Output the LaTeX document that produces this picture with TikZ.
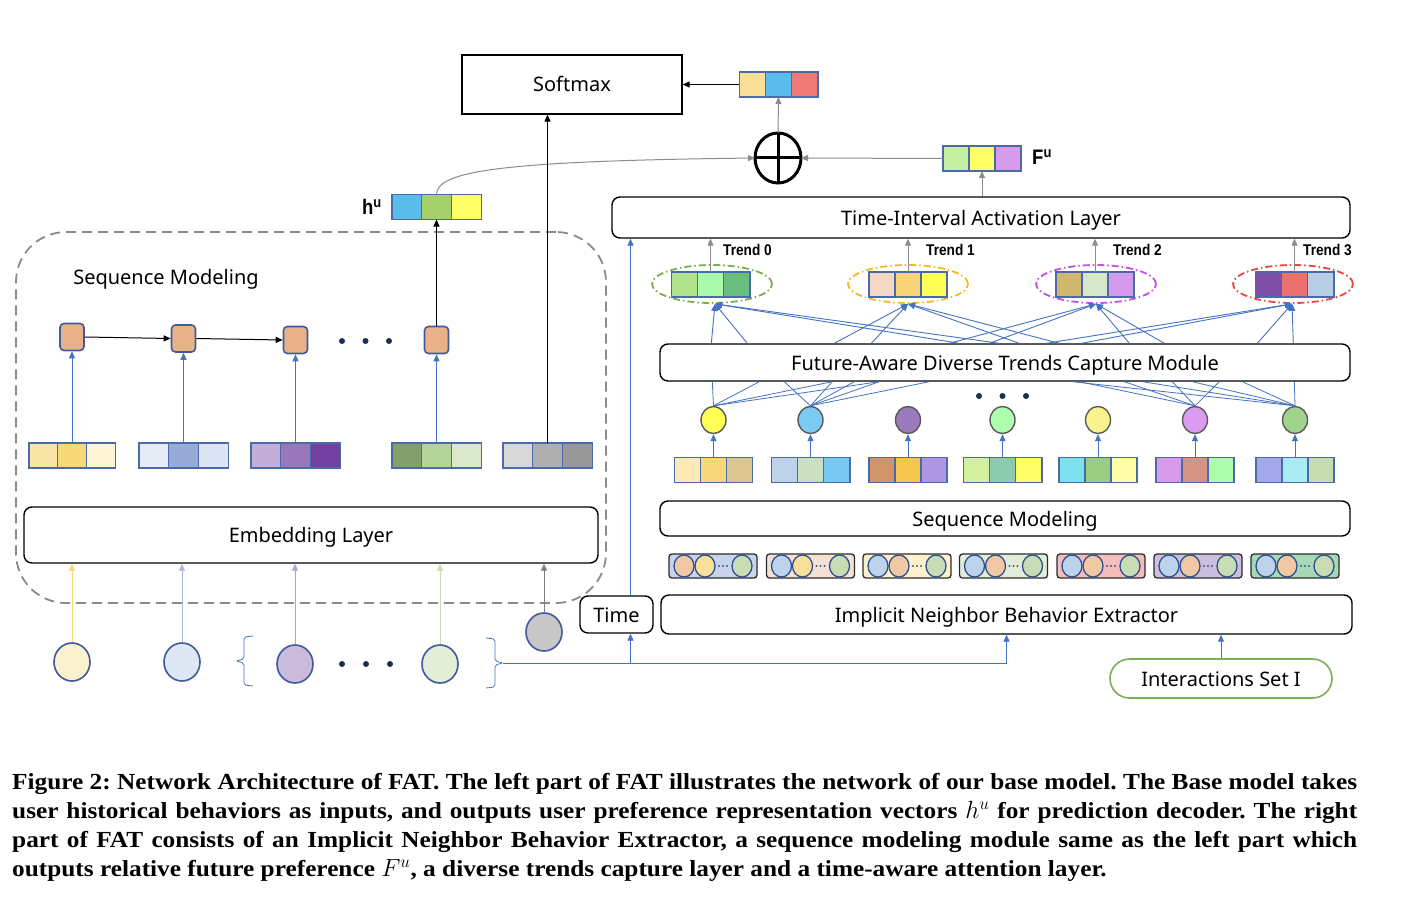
\documentclass[tikz,border=0pt]{standalone}
\usepackage{fontspec}
\setmainfont{Liberation Serif}
\newfontfamily\labfont{Noto Sans}
\newfontfamily\capfont{Liberation Serif}[FakeStretch=1.1]
\newfontfamily\tfont{Liberation Sans}[FakeStretch=0.88]
\usetikzlibrary{arrows.meta,shapes.geometric,calc}

\newcommand{\dc}[1]{\definecolor{c#1}{HTML}{#1}}
\definecolor{vecb}{HTML}{4A6AA8}
\definecolor{bl}{HTML}{4472C4}
\definecolor{gr}{HTML}{8C8C8C}
\definecolor{dg}{HTML}{8A8A8A}
\definecolor{nodeb}{HTML}{3F5B9B}
\definecolor{dotc}{HTML}{1F2D50}

\newcommand{\trivec}[6]{%
  \dc{#4}\dc{#5}\dc{#6}%
  \node[cell,minimum width=#3,fill=c#5] (#1) at #2 {};
  \node[cell,minimum width=#3,fill=c#4,anchor=east] (#1-l) at (#1.west) {};
  \node[cell,minimum width=#3,fill=c#6,anchor=west] (#1-r) at (#1.east) {};
}
\newcommand{\pill}[6]{%
  \dc{#3}\dc{#4}\dc{#5}\dc{#6}%
  \node[pillbox,fill=c#3] (#1) at (#2,566) {};
  \node[pell,fill=c#4] (#1-a) at ($(#1)+(-29,0)$) {};
  \node[pell,fill=c#5] (#1-b) at ($(#1)+(-8,0)$) {};
  \node[pell,fill=c#6] (#1-c) at ($(#1)+(29,0)$) {};
  \foreach \k in {6,10,14} \fill[color=nodeb] ($(#1)+(\k,0)$) circle[radius=1.2pt];
}

\tikzset{
  lab/.style={font=\labfont\fontsize{20}{24}\selectfont},
  lbold/.style={font=\tfont\bfseries\fontsize{21}{24}\selectfont},
  tlab/.style={font=\tfont\bfseries\fontsize{15.5}{18}\selectfont,anchor=west,inner sep=0},
  box/.style={draw,rounded corners=8pt,line width=1.4pt,inner sep=0,lab,text height=16pt,text depth=1pt},
  cell/.style={draw=vecb,line width=1.1pt,minimum height=25,inner sep=0,outer sep=0},
  barr/.style={color=bl,line width=0.9pt,-{Triangle[length=7pt,width=6pt]}},
  bline/.style={color=bl,line width=0.8pt},
  garr/.style={color=gr,line width=1pt,-{Triangle[length=7pt,width=6pt]}},
  karr/.style={color=black,line width=1pt,-{Triangle[length=7pt,width=6pt]}},
  carr/.style={line width=0.9pt,-{Triangle[length=7pt,width=6pt]}},
  snode/.style={draw=nodeb,fill=cE8B188,rounded corners=4pt,minimum width=24,minimum height=27,line width=1.6pt,inner sep=0},
  inc/.style={ellipse,draw=nodeb,line width=1.6pt,minimum width=36,minimum height=38,inner sep=0},
  tc/.style={ellipse,draw=c595959,line width=1.4pt,minimum width=25,minimum height=27,inner sep=0},
  pillbox/.style={draw=c2B2B2B,line width=1.3pt,rounded corners=3pt,minimum width=88,minimum height=24,inner sep=0},
  pell/.style={ellipse,draw=c2F4F8F,line width=1.3pt,minimum width=20,minimum height=22,inner sep=0},
  dotn/.style={circle,fill=dotc,minimum size=6,inner sep=0},
  trel/.style={ellipse,line width=1.8pt,dash pattern=on 7pt off 3pt on 1.5pt off 3pt,minimum width=120,minimum height=38,inner sep=0},
}
\dc{E8B188}\dc{595959}\dc{2B2B2B}\dc{2F4F8F}

\begin{document}
\begin{tikzpicture}[x=1pt,y=-1pt]
\useasboundingbox[fill=white] (0,0) rectangle (1404,896);

% ---------- top ----------
\node[draw,line width=1.2pt,minimum width=220,minimum height=59,inner sep=0,lab,text height=16pt,text depth=1pt] (soft) at (572,84.5) {Softmax};
\trivec{outv}{(778.5,84.5)}{26.3}{F9DE95}{5BBCEB}{F07876}
\draw[karr] (outv-l.west) -- (soft.east);

\node[ellipse,draw,line width=3pt,minimum width=46,minimum height=50,inner sep=0,outer sep=0] (plus) at (778,158) {};
\draw[line width=3pt] (plus.north) -- (plus.south) (plus.west) -- (plus.east);
\draw[garr] (plus.north) -- (outv.south);

\trivec{fv}{(982,158.5)}{26}{C5F0A4}{FFFF66}{D89AEB}
\node[lbold,anchor=west,inner sep=0] (fu) at (1032,157) {F\textsuperscript{u}};
\draw[garr] (fv-l.west) -- (plus.east);

\trivec{hv}{(436.5,207)}{29.7}{5BBCEB}{A5D06A}{FFFF66}
\node[lbold,anchor=east,inner sep=0] (hu) at (382,207) {h\textsuperscript{u}};
\draw[garr] (hv.north) .. controls +(0,-24) and +(-250,3) .. (plus.west);

% ---------- left part ----------
\node[draw=dg,line width=1.8pt,dash pattern=on 10pt off 6pt,rounded corners=50pt,minimum width=590,minimum height=371,inner sep=0] (seqbox) at (311,417.5) {};
\node[lab] (seqlab) at (166,279) {Sequence Modeling};

\node[snode] (s1) at (72,337) {};
\node[snode] (s2) at (183.5,338.5) {};
\node[snode] (s3) at (295.5,340) {};
\node[snode] (s4) at (436.5,340) {};
\draw[karr] (s1.east) -- (s2.west);
\draw[karr] (s2.east) -- (s3.west);
\node[dotn] (ld1) at (342,341) {};
\node[dotn] (ld2) at (365.5,341) {};
\node[dotn] (ld3) at (389,341) {};
\draw[karr] (s4.north) -- (hv.south);

\trivec{lv1}{(72,455.5)}{28.7}{FAE5A6}{F7D97A}{FEF4D6}
\trivec{lv2}{(183.5,455.5)}{29.7}{E6EBF6}{97ABD9}{DDE4F3}
\trivec{lv3}{(295.5,455.5)}{29.7}{C4AED7}{9A77B9}{72409F}
\trivec{lv4}{(436.5,455.5)}{29.7}{839F6B}{B4D399}{DAE8CB}
\trivec{lv5}{(547.5,455.5)}{29.7}{D8D8D8}{AFAFAF}{999999}
\draw[barr] (lv1.north) -- (s1.south);
\draw[barr] (lv2.north) -- (s2.south);
\draw[barr] (lv3.north) -- (s3.south);
\draw[barr] (lv4.north) -- (s4.south);
\draw[karr] (lv5.north) -- (lv5.north |- soft.south);

\node[box,minimum width=574,minimum height=56] (emb) at (311,535) {Embedding Layer};

\dc{FCF1CF}\dc{DEE8F4}\dc{CABBDC}\dc{E2EED8}\dc{C8C8C8}
\node[inc,fill=cFCF1CF] (i1) at (72,662) {};
\node[inc,fill=cDEE8F4] (i2) at (182,662) {};
\node[inc,fill=cCABBDC] (i3) at (295,664) {};
\node[inc,fill=cE2EED8] (i4) at (440,664) {};
\node[inc,fill=cC8C8C8] (i5) at (544,632) {};
\dc{F5D77A}\dc{A9BCE0}\dc{B49FD0}\dc{C5DDB0}\dc{7F7F7F}
\draw[carr,color=cF5D77A] (i1.north) -- (i1.north |- emb.south);
\draw[carr,color=cA9BCE0] (i2.north) -- (i2.north |- emb.south);
\draw[carr,color=cB49FD0] (i3.north) -- (i3.north |- emb.south);
\draw[carr,color=cC5DDB0] (i4.north) -- (i4.north |- emb.south);
\draw[carr,color=c7F7F7F] (i5.north) -- (i5.north |- emb.south);
\node[dotn] (bd1) at (342,664) {};
\node[dotn] (bd2) at (366,664) {};
\node[dotn] (bd3) at (390,664) {};

\draw[bline,rounded corners=2pt] (253,636) -- (244,637) -- (244,659) -- (236,661) -- (244,663) -- (244,685) -- (253,686);
\draw[bline,rounded corners=2pt] (486,638) -- (495,639) -- (495,661) -- (503,663) -- (495,665) -- (495,687) -- (486,688);
\coordinate (rbt) at (503,663);

% ---------- right part ----------
\node[box,minimum width=73,minimum height=37] (time) at (616.5,614.5) {Time};
\node[box,minimum width=691,minimum height=39] (inbe) at (1006.5,614.5) {Implicit Neighbor Behavior Extractor};
\dc{7AB055}
\node[draw=c7AB055,line width=1.6pt,rounded corners=19.5pt,minimum width=222,minimum height=39,inner sep=0,lab,text height=16pt,text depth=1pt] (iset) at (1221,678.5) {Interactions Set I};
\draw[barr] (rbt) -- (rbt -| inbe.south) -- (inbe.south);
\draw[barr] ([xshift=14pt]time.south |- rbt) -- ([xshift=14pt]time.south);
\draw[barr] (iset.north) -- (iset.north |- inbe.south);

\node[box,minimum width=738,minimum height=41] (tial) at (981,217.5) {Time-Interval Activation Layer};
\draw[barr] ([xshift=14pt]time.north) -- ([xshift=14pt]time.north |- tial.south);
\draw[garr] (tial.north -| fv.south) -- (fv.south);

\pill{p1}{713}{C9D4EA}{F2C7A4}{F9E09A}{C9DDB5}
\pill{p2}{810.5}{F6E0D2}{BDD3EC}{F9E09A}{C9DDB5}
\pill{p3}{907}{FDF1CC}{BDD3EC}{F2C7A4}{C9DDB5}
\pill{p4}{1003.5}{E2ECD9}{BDD3EC}{F2C7A4}{C9DDB5}
\pill{p5}{1101}{F4BCBC}{BDD3EC}{F2C7A4}{C9DDB5}
\pill{p6}{1198}{CBBFDD}{BDD3EC}{F2C7A4}{C9DDB5}
\pill{p7}{1295}{A6D9B8}{BDD3EC}{F2C7A4}{C9DDB5}

\node[box,minimum width=690,minimum height=35] (rseq) at (1005,518.5) {Sequence Modeling};

\trivec{rv1}{(713.5,470)}{26}{FDE9B5}{F8D77A}{DCC88F}
\trivec{rv2}{(810.5,470)}{26.3}{BED2EA}{CBE0C0}{77C8F0}
\trivec{rv3}{(908,470)}{26}{D2956A}{F7C64E}{AD95E0}
\trivec{rv4}{(1002.5,470)}{26.3}{D4EF9E}{8DCBAF}{FFFF66}
\trivec{rv5}{(1098,470)}{26}{7EE1EF}{9ACE82}{FFFFAA}
\trivec{rv6}{(1195,470)}{26}{D89AEB}{D49484}{ADFDAD}
\trivec{rv7}{(1295,470)}{26}{A4A8EA}{A9ECF5}{C6DDB0}

\dc{FFFF55}\dc{7BCBF4}\dc{9B7BBD}\dc{AFFFAF}\dc{F8F38E}\dc{DB9BEE}\dc{A0D48C}
\node[tc,fill=cFFFF55] (c1) at (713.5,420) {};
\node[tc,fill=c7BCBF4] (c2) at (810.5,420) {};
\node[tc,fill=c9B7BBD] (c3) at (908,420) {};
\node[tc,fill=cAFFFAF] (c4) at (1002.5,420) {};
\node[tc,fill=cF8F38E] (c5) at (1098,420) {};
\node[tc,fill=cDB9BEE] (c6) at (1195,420) {};
\node[tc,fill=cA0D48C] (c7) at (1295,420) {};
\foreach \i in {1,...,7} \draw[barr] (rv\i.north) -- (c\i.south);
\node[dotn] (rd1) at (979,396) {};
\node[dotn] (rd2) at (1002.5,396) {};
\node[dotn] (rd3) at (1026,396) {};

\node[box,minimum width=690,minimum height=37] (fad) at (1005,362.5) {Future-Aware Diverse Trends Capture Module};

\foreach \o in {53,100,173,220} \draw[bline] (c1.north) -- ([xshift=\o pt]fad.south west);
\foreach \o in {125,173,195,220,270} \draw[bline] (c2.north) -- ([xshift=\o pt]fad.south west);
\foreach \o in {420,465,513,560} \draw[bline] (c6.north) -- ([xshift=\o pt]fad.south west);
\foreach \o in {413,483,533,583,635} \draw[bline] (c7.north) -- ([xshift=\o pt]fad.south west);

\dc{77B04A}\dc{F5B921}\dc{C94BEA}\dc{EE4444}
\node[trel,draw=c77B04A] (te0) at (712,284) {};
\node[trel,draw=cF5B921] (te1) at (908,284) {};
\node[trel,draw=cC94BEA] (te2) at (1096,284) {};
\node[trel,draw=cEE4444] (te3) at (1293,284) {};
\trivec{tv0}{(710.5,284.5)}{26.3}{B0E38B}{AAF8AA}{68BF7F}
\trivec{tv1}{(908,284.5)}{26}{F4D6C2}{F8D57A}{FFFF55}
\trivec{tv2}{(1095,284.5)}{26}{D1B76C}{D8E6CB}{D69AEC}
\trivec{tv3}{(1294.5,284.5)}{26.3}{7E4EA6}{EC706E}{B8CDE6}

\foreach \o in {52,88,300,340} \draw[barr] ([xshift=\o pt]fad.north west) -- ([xshift=3pt]te0.south);
\foreach \o in {175,212,360,400} \draw[barr] ([xshift=\o pt]fad.north west) -- (te1.south);
\foreach \o in {290,330,470,505} \draw[barr] ([xshift=\o pt]fad.north west) -- (te2.south);
\foreach \o in {387,422,598,634} \draw[barr] ([xshift=\o pt]fad.north west) -- ([xshift=-1pt]te3.south);

\draw[garr] (tv0.north) -- (tv0.north |- tial.south);
\draw[garr] (tv1.north) -- (tv1.north |- tial.south);
\draw[garr] (tv2.north) -- (tv2.north |- tial.south);
\draw[garr] (tv3.north) -- (tv3.north |- tial.south);
\node[tlab] (tl0) at (723,250) {Trend 0};
\node[tlab] (tl1) at (926,250) {Trend 1};
\node[tlab] (tl2) at (1113,250) {Trend 2};
\node[tlab] (tl3) at (1303,250) {Trend 3};

% ---------- caption ----------
\node[anchor=north west,text width=1345pt,align=justify,inner sep=0,font=\capfont\bfseries\frenchspacing\fontsize{23}{29}\selectfont] (cap) at (12,773) {Figure 2: Network Architecture of FAT. The left part of FAT illustrates the network of our base model. The Base model takes\linebreak user historical behaviors as inputs, and outputs user preference representation vectors $h^u$ for prediction decoder. The right\linebreak part of FAT consists of an Implicit Neighbor Behavior Extractor, a sequence modeling module same as the left part which\linebreak outputs relative future preference $F^u$, a diverse trends capture layer and a time-aware attention layer.};
\end{tikzpicture}
\end{document}
